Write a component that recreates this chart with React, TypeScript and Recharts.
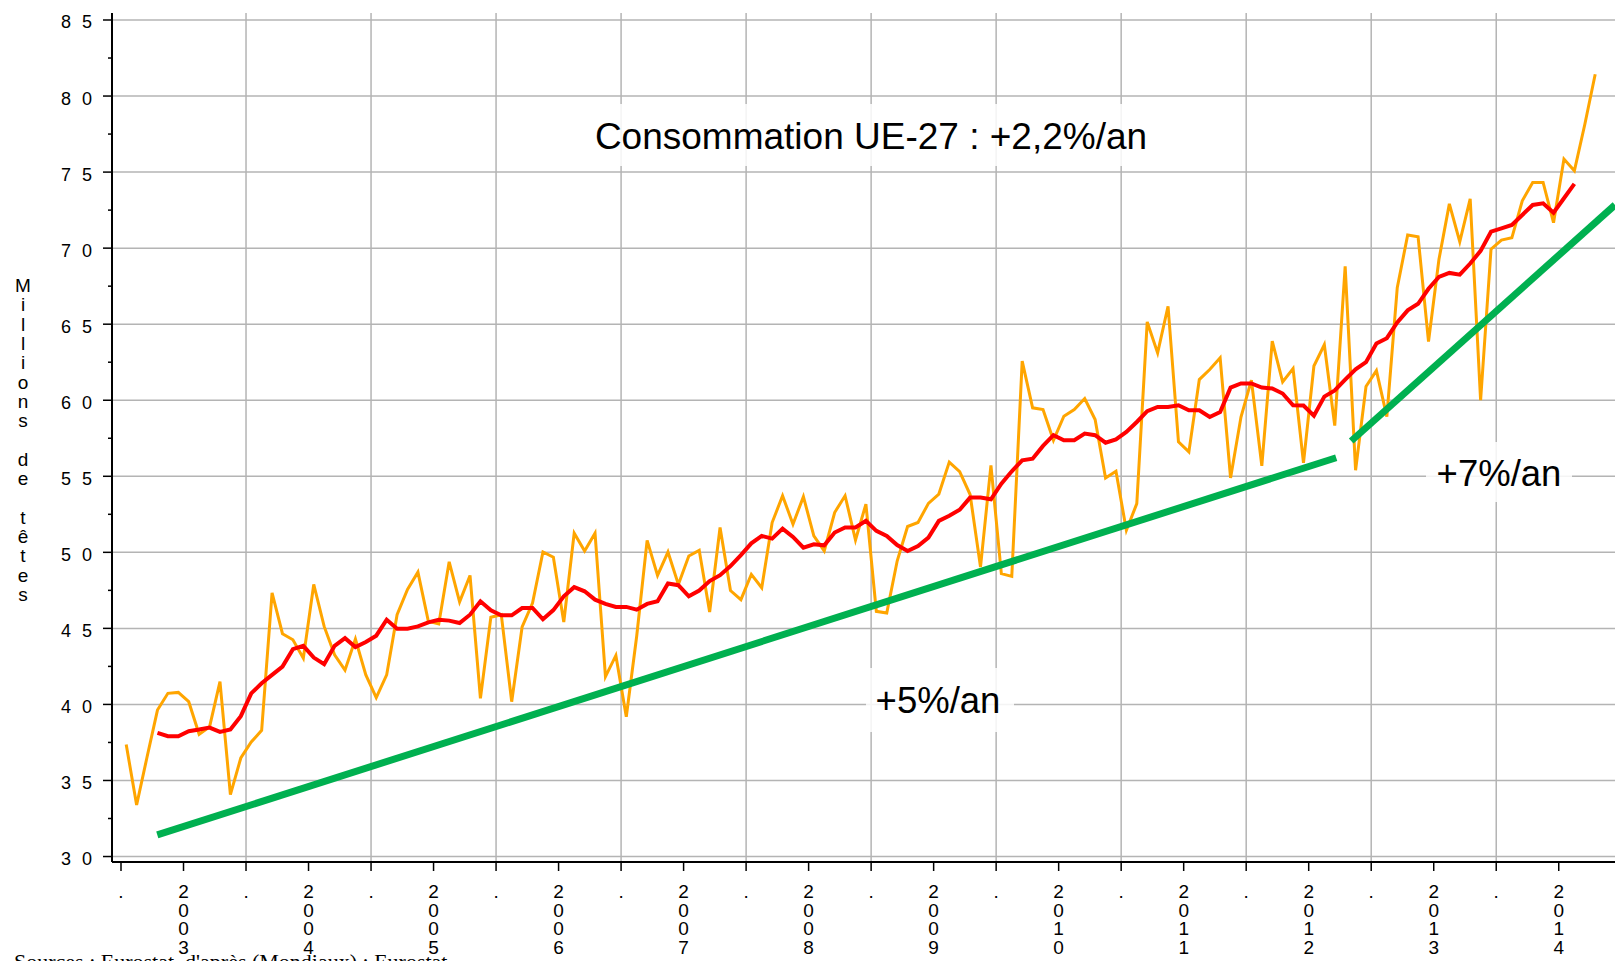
import React from 'react';
import { LineChart, Line, XAxis, YAxis, CartesianGrid } from 'recharts';

// Monthly EU-27 consumption, Jan 2003 -> Oct 2014 (millions)
const years = [2003, 2004, 2005, 2006, 2007, 2008, 2009, 2010, 2011, 2012, 2013, 2014];

const consumption = [
  37.36, 33.39, 36.54, 39.63, 40.73, 40.79, 40.18, 38.04, 38.52, 41.5, 34.07, 36.48,
  37.53, 38.3, 47.33, 44.65, 44.25, 43.04, 47.89, 45.13, 43.26, 42.25, 44.3, 41.94,
  40.44, 41.94, 45.9, 47.56, 48.7, 45.46, 45.29, 49.38, 46.74, 48.48, 40.4, 45.73,
  45.9, 40.18, 45.09, 46.67, 50.02, 49.68, 45.42, 51.26, 50.09, 51.26, 41.83, 43.22,
  39.19, 44.5, 50.79, 48.48, 50.02, 47.89, 49.76, 50.13, 46.08, 51.63, 47.49, 46.89,
  48.55, 47.67, 51.96, 53.72, 51.85, 53.66, 51.08, 50.09, 52.62, 53.72, 50.81, 53.17,
  46.12, 46.01, 49.43, 51.7, 51.96, 53.22, 53.83, 55.93, 55.3, 53.8, 49.04, 55.72,
  48.6, 48.42, 62.57, 59.5, 59.39, 57.37, 58.95, 59.39, 60.11, 58.73, 54.89, 55.33,
  51.45, 53.2, 65.15, 63.11, 66.18, 57.26, 56.6, 61.36, 62.02, 62.79, 54.89, 58.9,
  61.32, 55.68, 63.88, 61.21, 62.08, 55.88, 62.25, 63.65, 58.33, 68.8, 55.4, 60.9,
  61.95, 58.92, 67.4, 70.86, 70.75, 63.85, 69.25, 72.91, 70.42, 73.24, 60.0, 69.93,
  70.53, 70.68, 73.11, 74.32, 74.32, 71.67, 75.86, 75.09, 78.13, 81.43,
];

// moving average, starts April 2003
const avgStart = 3;
const movingAvg = [
  38.13, 37.91, 37.91, 38.24, 38.35, 38.48, 38.19, 38.35, 39.23,
  40.73, 41.39, 41.94, 42.49, 43.63, 43.85, 43.08, 42.64, 43.85, 44.36, 43.77, 44.1,
  44.52, 45.57, 44.98, 44.98, 45.13, 45.4, 45.57, 45.51, 45.35, 45.9, 46.78, 46.19,
  45.86, 45.86, 46.34, 46.34, 45.6, 46.2, 47.11, 47.71, 47.44, 46.89, 46.61, 46.41,
  46.41, 46.23, 46.61, 46.78, 47.95, 47.84, 47.11, 47.49, 48.11, 48.5, 49.1, 49.82,
  50.59, 51.08, 50.9, 51.56, 51.01, 50.31, 50.53, 50.46, 51.3, 51.63, 51.63, 52.07,
  51.41, 51.08, 50.48, 50.09, 50.42, 50.97, 52.07, 52.4, 52.8, 53.6, 53.6, 53.49,
  54.52, 55.33, 56.05, 56.16, 57.0, 57.7, 57.37, 57.37, 57.81, 57.7, 57.21, 57.43,
  57.92, 58.57, 59.28, 59.56, 59.56, 59.67, 59.34, 59.34, 58.9, 59.23, 60.83, 61.1,
  61.1, 60.83, 60.77, 60.44, 59.67, 59.65, 58.98, 60.24, 60.64, 61.35, 62.03, 62.5,
  63.73, 64.08, 65.11, 65.91, 66.34, 67.33, 68.11, 68.37, 68.26, 68.99, 69.82, 71.08,
  71.3, 71.52, 72.18, 72.84, 72.95, 72.33, 73.28, 74.23,
];

const trendLow = [
  { t: 2003.29, v: 31.42 },
  { t: 2012.72, v: 56.22 },
];
const trendHigh = [
  { t: 2012.84, v: 57.32 },
  { t: 2014.95, v: 72.84 },
];

const yTicks = [30, 32.5, 35, 37.5, 40, 42.5, 45, 47.5, 50, 52.5, 55, 57.5, 60, 62.5, 65, 67.5, 70, 72.5, 75, 77.5, 80, 82.5, 85];
const yGrid = [30, 35, 40, 45, 50, 55, 60, 65, 70, 75, 80, 85];
const gridYears = years.slice(1);
const xTicks = years.flatMap((y) => [y, y + 0.5]);

const title = 'Consommation UE-27 : +2,2%/an';
const lowLabel = '+5%/an';
const highLabel = '+7%/an';
const yTitle = 'Millions de têtes';
const source = "Sources : Eurostat, d'après (Mondiaux) ; Eurostat";

const table = consumption.map((v, k) => ({
  t: 2003 + (k + 0.5) / 12,
  raw: v,
  avg: k >= avgStart && k - avgStart < movingAvg.length ? movingAvg[k - avgStart] : null,
}));

const FONT = '"Liberation Sans", Arial, sans-serif';

const YTick = (props: any) => {
  const { x, y, payload } = props;
  const major = payload.value % 5 === 0;
  return (
    <g>
      <line x1={x - (major ? 9 : 4)} x2={x} y1={y} y2={y} stroke="#000" strokeWidth={1.5} />
      {major && (
        <text x={x - 51} y={y + 8.5} fontSize={18} fontFamily={FONT} letterSpacing={11} fill="#000">
          {String(payload.value)}
        </text>
      )}
    </g>
  );
};

const XTick = (props: any) => {
  const { x, y, payload } = props;
  const v = payload.value as number;
  const label = Number.isInteger(v) ? '.' : String(Math.floor(v));
  return (
    <g>
      <line x1={x} x2={x} y1={y} y2={y + 9} stroke="#000" strokeWidth={1.5} />
      {label.split('').map((ch, i) => (
        <text key={i} x={x} y={y + 36 + i * 18.5} textAnchor="middle" fontSize={19} fontFamily={FONT} fill="#000">
          {ch}
        </text>
      ))}
    </g>
  );
};

export default function App() {
  return (
    <div style={{ position: 'fixed', left: 0, top: 0, width: 1615, height: 961, background: '#fff', overflow: 'hidden' }}>
      <LineChart width={1615} height={961} data={table} margin={{ top: 13, right: 0, bottom: 0, left: 0 }}>
        <CartesianGrid stroke="#b4b4b4" strokeWidth={1.5} horizontalValues={yGrid} verticalValues={gridYears} />
        <XAxis
          dataKey="t"
          type="number"
          domain={[2002.928, 2014.95]}
          allowDataOverflow
          ticks={xTicks}
          interval={0}
          tick={<XTick />}
          tickLine={false}
          tickSize={0}
          tickMargin={0}
          height={99}
          axisLine={{ stroke: '#000', strokeWidth: 2 }}
        />
        <YAxis
          type="number"
          domain={[29.64, 85.46]}
          allowDataOverflow
          ticks={yTicks}
          interval={0}
          width={112}
          tick={<YTick />}
          tickLine={false}
          tickSize={0}
          tickMargin={0}
          axisLine={{ stroke: '#000', strokeWidth: 2 }}
        />
        <Line dataKey="raw" type="linear" stroke="#ffa500" strokeWidth={3} dot={false} isAnimationActive={false} />
        <Line dataKey="avg" type="linear" stroke="#ff0000" strokeWidth={4} dot={false} isAnimationActive={false} />
        <Line data={trendLow} dataKey="v" type="linear" stroke="#00b050" strokeWidth={7} dot={false} isAnimationActive={false} />
        <Line data={trendHigh} dataKey="v" type="linear" stroke="#00b050" strokeWidth={7} dot={false} isAnimationActive={false} />
      </LineChart>
      <svg width={1615} height={961} style={{ position: 'absolute', left: 0, top: 0, pointerEvents: 'none' }}>
        <rect x={585} y={104} width={573} height={62} fill="#fff" fillOpacity={0.85} />
        <text x={871} y={149} textAnchor="middle" fontSize={37} fontFamily={FONT} fill="#000">{title}</text>
        <rect x={866} y={668} width={148} height={64} fill="#fff" fillOpacity={0.85} />
        <text x={938} y={713} textAnchor="middle" fontSize={36.5} fontFamily={FONT} fill="#000">{lowLabel}</text>
        <rect x={1426} y={442} width={146} height={60} fill="#fff" fillOpacity={0.85} />
        <text x={1499} y={486} textAnchor="middle" fontSize={36.5} fontFamily={FONT} fill="#000">{highLabel}</text>
        {yTitle.split('').map((ch, i) => (
          <text key={i} x={23} y={292 + i * 19.3} textAnchor="middle" fontSize={19} fontFamily={FONT} fill="#000">{ch}</text>
        ))}
        <text x={14} y={969} fontSize={22} fontFamily='"Liberation Serif", "Times New Roman", serif' fill="#000">{source}</text>
      </svg>
    </div>
  );
}
